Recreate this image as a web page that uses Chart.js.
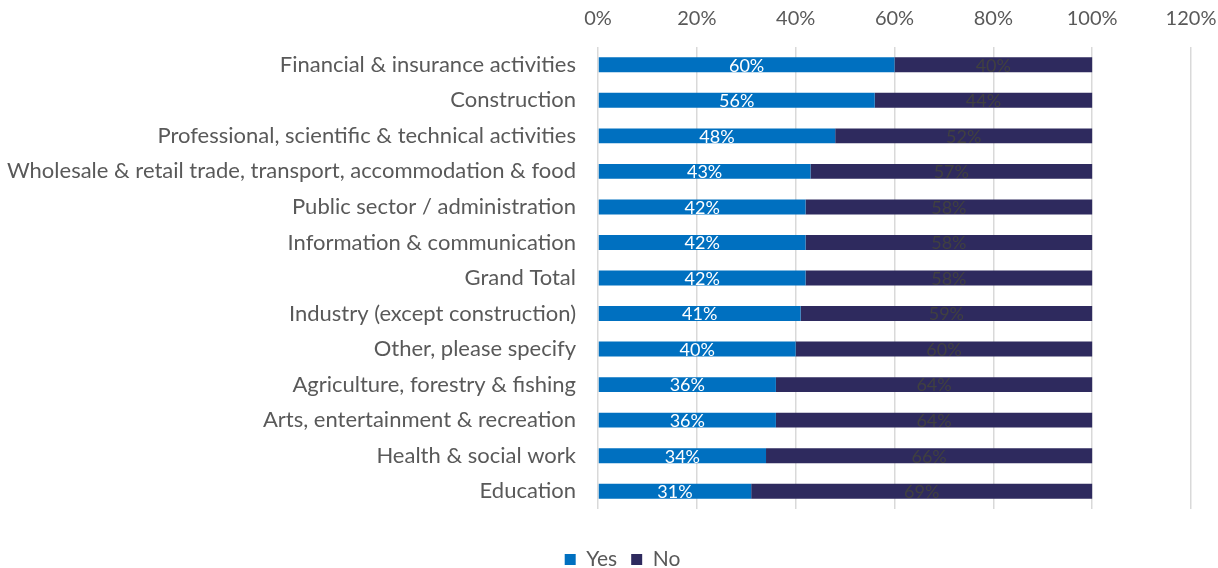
<!DOCTYPE html>
<html lang="en">
<head>
  <meta charset="UTF-8">
  <title>Yes / No by sector</title>
  <script src="https://cdn.jsdelivr.net/npm/chart.js@4.4.0/dist/chart.umd.min.js"></script>
  <style>
  body { margin: 0; background: #fff; }
  #wrap { width: 1218px; height: 568px; }
  </style>
</head>
<body>
<div id="wrap"><canvas id="myChart" width="1218" height="568"></canvas></div>
<script>
    const sectors = [
      'Financial & insurance activities',
      'Construction',
      'Professional, scientific & technical activities',
      'Wholesale & retail trade, transport, accommodation & food',
      'Public sector / administration',
      'Information & communication',
      'Grand Total',
      'Industry (except construction)',
      'Other, please specify',
      'Agriculture, forestry & fishing',
      'Arts, entertainment & recreation',
      'Health & social work',
      'Education'
    ];
    const yesPct = [60, 56, 48, 43, 42, 42, 42, 41, 40, 36, 36, 34, 31];
    const noPct = [40, 44, 52, 57, 58, 58, 58, 59, 60, 64, 64, 66, 69];

    const textGrey = '#595959';
    Chart.defaults.font.family = 'Lato, sans-serif';

    // labels in the middle of each bar piece
    const barLabels = {
      id: 'barLabels',
      afterDatasetsDraw: (chart) => {
        const ctx = chart.ctx;
        ctx.save();
        ctx.font = '18px Lato, sans-serif';
        ctx.textAlign = 'center';
        ctx.textBaseline = 'middle';
        chart.data.datasets.forEach((ds, i) => {
          const meta = chart.getDatasetMeta(i);
          ctx.fillStyle = i === 0 ? '#ffffff' : '#404040';
          meta.data.forEach((bar, j) => {
            const x = (bar.x + bar.base) / 2;
            ctx.fillText(ds.data[j] + '%', x, bar.y + 1);
          });
        });
        ctx.restore();
      }
    };

    // the legend sits a bit lower and right of where the layout puts it
    const legendShift = {
      id: 'legendShift',
      afterLayout: (chart) => {
        const lg = chart.legend;
        lg.top += 26;
        lg.bottom += 26;
        lg.left += 27;
        lg.right += 27;
      }
    };

    var ctx = document.getElementById('myChart');
    var myChart = new Chart(ctx, {
      type: 'bar',
      data: {
        labels: sectors,
        datasets: [{
          label: 'Yes',
          data: yesPct,
          backgroundColor: '#0070c0',
          barPercentage: 0.42,
          categoryPercentage: 1
        }, {
          label: 'No',
          data: noPct,
          backgroundColor: '#2e2a5e',
          barPercentage: 0.42,
          categoryPercentage: 1
        }]
      },
      options: {
        indexAxis: 'y',
        responsive: false,
        animation: false,
        layout: { padding: { top: 0, right: 27, bottom: 14, left: 0 } },
        scales: {
          x: {
            position: 'top',
            stacked: true,
            min: 0,
            max: 120,
            ticks: {
              stepSize: 20,
              color: textGrey,
              font: { size: 20 },
              padding: 16,
              callback: (v) => v + '%'
            },
            grid: { color: '#d9d9d9', drawTicks: false, lineWidth: 1.5 },
            border: { display: false },
            afterFit: (scale) => {
              scale.height = 47;
              scale.paddingLeft = 0;
              scale.paddingRight = 0;
            }
          },
          y: {
            stacked: true,
            ticks: {
              color: textGrey,
              font: { size: 22 },
              padding: 14
            },
            grid: { display: false },
            border: { display: false },
            afterFit: (scale) => { scale.width = 598; }
          }
        },
        plugins: {
          legend: {
            position: 'bottom',
            labels: {
              color: textGrey,
              font: { size: 21 },
              boxWidth: 11,
              boxHeight: 11,
              padding: 14
            }
          },
          tooltip: { enabled: false }
        }
      },
      plugins: [barLabels, legendShift]
    });
</script>
</body>
</html>
